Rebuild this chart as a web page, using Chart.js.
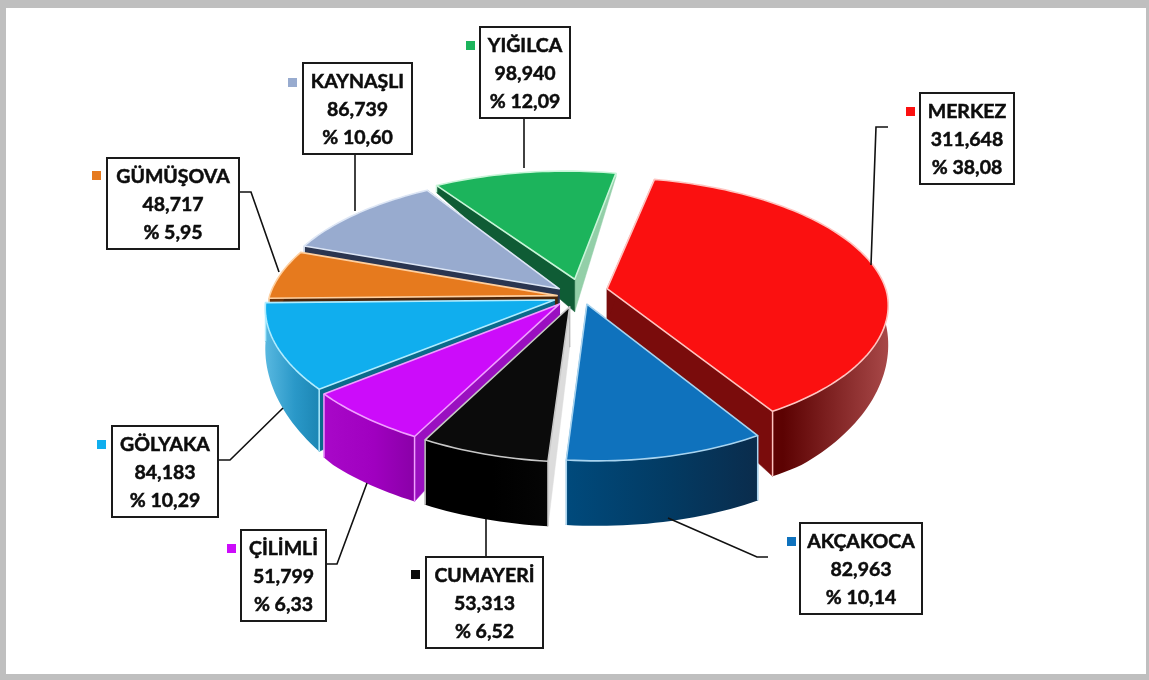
<!DOCTYPE html>
<html><head><meta charset="utf-8">
<style>html,body{margin:0;padding:0;background:#fff;overflow:hidden}canvas{display:block}</style>
<script src="https://cdn.jsdelivr.net/npm/chart.js@4"></script>
</head><body><canvas id="c" width="1149" height="680"></canvas>
<script>
const categories=["MERKEZ","AKÇAKOCA","CUMAYERİ","ÇİLİMLİ","GÖLYAKA","GÜMÜŞOVA","KAYNAŞLI","YIĞILCA"];
const values=[311648,82963,53313,51799,84183,48717,86739,98940];
const valueLabels=["311,648","82,963","53,313","51,799","84,183","48,717","86,739","98,940"];
const percentLabels=["% 38,08","% 10,14","% 6,52","% 6,33","% 10,29","% 5,95","% 10,60","% 12,09"];
const topColors=["#fb1010","#0f72bd","#0b0b0b","#cc0cfa","#10aeee","#e67a1e","#98abcf","#1cb45c"];
const edgeColors=["#ffc4c0","#a8d4f0","#c8c8c8","#f0a0ff","#b0ecff","#ffd0a0","#dde6f5","#c8f5d8"];
const wallStops=[["#7a0404","#5c0202","#a84848"],["#004a7c","#033a62","#0a2c4c"],["#000000","#000000","#050505"],["#a808c8","#a000c0","#8a00a8"],["#58b8e0","#2a98c8","#1c86b4"],["#6a3208","#6a3208","#6a3208"],["#2c3650","#2c3650","#2c3650"],["#0f5c35","#0f5c35","#0f5c35"]];
const startFaces=["#7a0c0c","#0a3a60","#dcdcdc","#9a10c0","#0a6a8a","#4a2408","#2a3550","#0f5c35"];
const endFaces=["#7a0c0c","#0a3a60","#0b0b0b","#9a10c0","#0a6a8a","#4a2408","#2a3550","#93cfa8"];
const explode=[36,30,22,22,22,20,24,42];
const sliceShift=[[3,-6],[8,-5],[3,1],[0,0],[1,0],[3,0],[4,-2],[-1,-1]];
const tipShift=[[0,0],[0,0],[0,0],[0,0],[0,0],[0,0],[0,0],[10,0]];
const radiusScale=[0.97,1,1,1,1,1,1,0.97];
const boxes=[[920,93,94,91],[800,523,122,91],[426,557,117,91],[241,530,85,91],[112,426,106,91],[107,158,132,91],[303,63,109,91],[480,27,90,91]];
const markers=[[906,107],[787,537],[411,570],[227,544],[97,440],[92,171],[288,78],[466,41]];
const leaders=[[[888,127],[876,127],[871,265]],[[668,518],[757,557],[768,557]],[[486,557],[486,519]],[[326,564],[337,564],[367,483]],[[218,460],[230,460],[283,408]],[[239,192],[251,192],[279,272]],[[355,154],[355,211]],[[524,118],[524,168]]];
const CX=572,CY=297,R=288,K=131,P=0.14,PX=0.09;
function project(u,v){const w=1-P*v,wx=1-(v>0?PX:P)*v;return [CX+R*u/wx+10*Math.max(v,0),CY+K*v/w];}
function depth(y){return Math.max(0,Math.min(65,0.27*(y-170)+3));}
function poly(ctx,pts,fill,stroke,lw){ctx.beginPath();pts.forEach((p,i)=>i?ctx.lineTo(p[0],p[1]):ctx.moveTo(p[0],p[1]));ctx.closePath();
 if(fill){ctx.fillStyle=fill;ctx.fill();}if(stroke){ctx.strokeStyle=stroke;ctx.lineWidth=lw||1;ctx.stroke();}}
function down(p){return [p[0],p[1]+depth(p[1])];}
const pie3d={id:"pie3d",
 beforeDraw(chart){const c=chart.ctx;c.save();c.fillStyle="#fff";c.fillRect(0,0,1149,680);c.fillStyle="#bfbfbf";
  c.fillRect(0,0,1149,8);c.fillRect(0,674,1149,6);c.fillRect(0,0,6,680);c.fillRect(1146,0,3,680);c.restore();},
 beforeDatasetDraw(chart,args){
  const ctx=chart.ctx,meta=args.meta;
  const slices=meta.data.map((arc,i)=>{const mid=(arc.startAngle+arc.endAngle)/2,off=explode[i]/arc.outerRadius;
   return {i,arc,mid,ou:Math.cos(mid)*off,ov:Math.sin(mid)*off};});
  slices.sort((a,b)=>Math.sin(a.mid)-Math.sin(b.mid));
  ctx.save();ctx.lineJoin="round";
  for(const s of slices){
   const n=Math.max(8,Math.round((s.arc.endAngle-s.arc.startAngle)*40)),rim=[],sh=sliceShift[s.i],rs=radiusScale[s.i],ts=tipShift[s.i];
   const pr=(u,v)=>{const p=project(u,v);return [p[0]+sh[0],p[1]+sh[1]];};
   for(let j=0;j<=n;j++){const a=s.arc.startAngle+(s.arc.endAngle-s.arc.startAngle)*j/n;
    rim.push(pr(s.ou+rs*Math.cos(a),s.ov+rs*Math.sin(a)));}
   const t0=pr(s.ou,s.ov),tip=[t0[0]+ts[0],t0[1]+ts[1]],st=wallStops[s.i],edge=s.arc.options.borderColor;
   poly(ctx,[tip,rim[n],down(rim[n]),down(tip)],endFaces[s.i],endFaces[s.i],0.5);
   poly(ctx,[tip,rim[0],down(rim[0]),down(tip)],startFaces[s.i],startFaces[s.i],0.5);
   const xs=rim.map(p=>p[0]),x0=Math.min(...xs),x1=Math.max(...xs),g=ctx.createLinearGradient(x0,0,x1,0);
   g.addColorStop(0,st[0]);g.addColorStop(.55,st[1]);g.addColorStop(1,st[2]);
   poly(ctx,rim.concat(rim.map(down).reverse()),g);
   [rim[0],rim[n]].forEach(p=>{ctx.beginPath();ctx.moveTo(p[0],p[1]);const d=down(p);ctx.lineTo(d[0],d[1]);ctx.strokeStyle=edge;ctx.lineWidth=1.5;ctx.stroke();});
   poly(ctx,[tip].concat(rim),s.arc.options.backgroundColor,edge,s.arc.options.borderWidth);
  }
  ctx.restore();
  return false;
 },
 afterDraw(chart){const c=chart.ctx;c.save();
  c.strokeStyle="#111";c.lineWidth=1.6;
  leaders.forEach(l=>{c.beginPath();l.forEach((p,i)=>i?c.lineTo(p[0],p[1]):c.moveTo(p[0],p[1]));c.stroke();});
  c.textAlign="center";c.textBaseline="middle";c.font="bold 19.5px Lato, 'Open Sans', sans-serif";
  categories.forEach((name,i)=>{const b=boxes[i];
   c.fillStyle="#fff";c.fillRect(b[0],b[1],b[2],b[3]);c.lineWidth=2;c.strokeStyle="#1a1a1a";c.strokeRect(b[0],b[1],b[2],b[3]);
   c.fillStyle="#0d0d0d";c.strokeStyle="#0d0d0d";c.lineWidth=0.5;const x=b[0]+b[2]/2;
   [name,valueLabels[i],percentLabels[i]].forEach((t,r)=>{const y=b[1]+19+28*r;c.fillText(t,x,y);c.strokeText(t,x,y);});
   c.fillStyle=topColors[i];c.fillRect(markers[i][0],markers[i][1],9,9);
  });
  c.restore();}
};
new Chart(document.getElementById("c"),{type:"pie",
 data:{labels:categories,datasets:[{data:values,backgroundColor:topColors,borderColor:edgeColors,borderWidth:1.6,offset:explode}]},
 options:{responsive:false,animation:false,rotation:12,layout:{padding:0},
  plugins:{legend:{display:false},tooltip:{enabled:false}}},
 plugins:[pie3d]});
</script></body></html>
